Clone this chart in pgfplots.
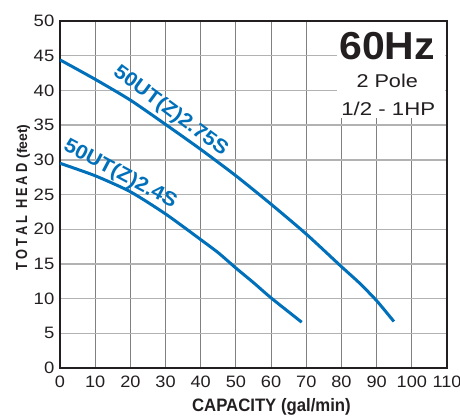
\documentclass[border=0pt]{standalone}
\usepackage{fontspec}
\setmainfont{Liberation Sans}
\usepackage{pgfplots}
\pgfplotsset{compat=1.18}
\definecolor{curveblue}{RGB}{0,112,186}
\definecolor{ink}{RGB}{35,31,32}
\newcommand{\sq}[1]{\scalebox{0.8}[1]{#1}}
\begin{document}
\begin{tikzpicture}
\useasboundingbox (-60pt,-48pt) rectangle (400pt,368pt);
\begin{axis}[
  at={(0,0)}, anchor=south west,
  scale only axis,
  width=387pt, height=347pt,
  xmin=0, xmax=110, ymin=0, ymax=50,
  xtick={0,10,...,110}, ytick={0,5,...,50},
  major tick length=0pt,
  grid=major,
  x grid style={black!50, line width=0.9pt},
  y grid style={black!30, line width=1.4pt},
  axis line style={ink, line width=1.8pt},
  /pgf/number format/assume math mode=true,
  tick label style={font=\fontsize{16.5}{16.5}\selectfont, text=ink},
  xticklabel={\scalebox{1.1}[1]{\pgfmathprintnumber{\tick}}},
  yticklabel={\scalebox{1.12}[1]{\pgfmathprintnumber{\tick}}},
  xticklabel style={anchor=north, inner sep=0pt, yshift=-7.5pt},
  yticklabel style={anchor=east, inner sep=0pt, xshift=-5.5pt},
  xlabel={\scalebox{0.93}[1]{\bfseries\fontsize{18}{18}\selectfont CAPACITY (gal/min)}},
  xlabel style={at={(axis cs:60.1,-5.55)}, anchor=center, inner sep=0pt, text=ink},
  ylabel={\bfseries\fontsize{16}{16}\selectfont
    \sq{T}\kern3pt\sq{O}\kern3pt\sq{T}\kern3pt\sq{A}\kern3pt\sq{L}\kern7pt
    \sq{H}\kern3pt\sq{E}\kern3pt\sq{A}\kern3pt\sq{D}\kern5pt
    {\fontsize{14}{14}\selectfont(feet)}},
  ylabel style={at={(axis cs:-10.5,24.57)}, anchor=center, inner sep=0pt, text=ink},
]
% info box covering the grid
\fill[white] (axis cs:78.7,36.0) rectangle (axis cs:109.4,49.8);
\node[ink, font=\bfseries\fontsize{39}{39}\selectfont] at (axis cs:93.0,46.4) {\scalebox{1.05}[1]{60Hz}};
\node[ink, font=\fontsize{18.5}{18.5}\selectfont] at (axis cs:93.0,41.4) {\scalebox{1.17}[1]{2 Pole}};
\node[ink, font=\fontsize{18.5}{18.5}\selectfont] at (axis cs:93.3,37.4) {\scalebox{1.2}[1]{1/2 - 1HP}};

% 50UT(Z)2.75S
\addplot[curveblue, line width=3pt, smooth, tension=0.4] coordinates {
  (0,44.4) (10,41.6) (20,38.6) (30,35.1) (40,31.5) (50,27.7)
  (60,23.6) (70,19.3) (80,14.6) (85,12.3) (90,9.7) (94.9,6.7)
};
% 50UT(Z)2.4S
\addplot[curveblue, line width=3pt, smooth, tension=0.4] coordinates {
  (0,29.5) (10,27.7) (20,25.4) (30,22.2) (40,18.5) (45,16.6)
  (50,14.4) (55,12.3) (60,10.1) (68.7,6.6)
};

\node[curveblue, rotate=-36.5, font=\bfseries\fontsize{20}{20}\selectfont] at (axis cs:31.4,37.0) {\scalebox{1.08}[1]{50UT(Z)2.75S}};
\node[curveblue, rotate=-28, font=\bfseries\fontsize{20}{20}\selectfont] at (axis cs:17.1,27.9) {\scalebox{1.08}[1]{50UT(Z)2.4S}};
\end{axis}
\end{tikzpicture}
\end{document}
